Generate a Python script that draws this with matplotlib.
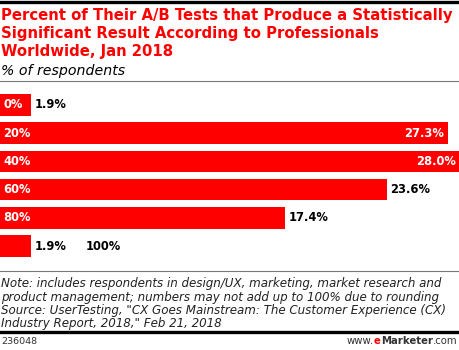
import matplotlib
matplotlib.use('Agg')
import matplotlib.pyplot as plt
from matplotlib.lines import Line2D

W, H = 460, 350

categories = ['0%', '20%', '40%', '60%', '80%', '100%']
values = [1.9, 27.3, 28.0, 23.6, 17.4, 1.9]

title_lines = ['Percent of Their A/B Tests that Produce a Statistically',
               'Significant Result According to Professionals',
               'Worldwide, Jan 2018']
subtitle = '% of respondents'
note_lines = ['Note: includes respondents in design/UX, marketing, market research and',
              'product management; numbers may not add up to 100% due to rounding',
              'Source: UserTesting, "CX Goes Mainstream: The Customer Experience (CX)',
              'Industry Report, 2018," Feb 21, 2018']
chart_id = '236048'

RED = '#ff0000'
plt.rcParams['font.family'] = ['DejaVu Sans']

fig = plt.figure(figsize=(W / 100, H / 100), dpi=100)
fig.patch.set_facecolor('white')


def fy(px):
    # pixel from top -> figure fraction
    return 1 - px / H


def hline(y, lw, color):
    fig.add_artist(Line2D([0, 1], [fy(y), fy(y)], lw=lw, color=color,
                          transform=fig.transFigure))


hline(1.5, 2.4, 'black')
for i, t in enumerate(title_lines):
    fig.text(0.002, fy(20 + i * 18), t, color=RED, fontsize=10.7, fontweight='bold',
             va='baseline', ha='left')
fig.text(0.002, fy(75), subtitle, fontsize=10.2, style='italic', va='baseline')
hline(81, 0.8, '#777777')

# bars
top, bot = 90.6, 260.4
ax = fig.add_axes([0, fy(bot), 1, (bot - top) / H])
ypos = list(range(len(categories)))
ax.barh(ypos, values, height=0.76, color=RED, edgecolor='none')
xmax = 28.0 * 460 / 459
ax.set_xlim(0, xmax)
ax.set_ylim(len(categories) - 0.5, -0.5)
ax.axis('off')

fig.canvas.draw()
r = fig.canvas.get_renderer()
px_per_unit = W / xmax
fs = 8.3
for y, cat, v in zip(ypos, categories, values):
    bar_px = v * px_per_unit
    ct = ax.text(0.2, y, cat, color='white', fontsize=fs, fontweight='bold',
                 va='center', ha='left')
    cw = ct.get_window_extent(r).width
    if v > 25:
        ax.text(v - 0.2, y, '%.1f%%' % v, color='white', fontsize=fs,
                fontweight='bold', va='center', ha='right')
    else:
        vt = ax.text(v + 0.2, y, '%.1f%%' % v, color='black', fontsize=fs,
                     fontweight='bold', va='center', ha='left')
        if cw + 6 > bar_px:
            ct.set_visible(False)
            vw = vt.get_window_extent(r).width
            ax.text(v + 0.2 + (vw + 19) / px_per_unit, y, cat, color='black',
                    fontsize=fs, fontweight='bold', va='center', ha='left')

hline(271, 0.8, '#777777')
for i, t in enumerate(note_lines):
    fig.text(0.002, fy(287 + i * 13.5), t, fontsize=8.6, style='italic',
             va='baseline', color='#222222')
hline(332, 2.4, 'black')
fig.text(0.002, fy(344), chart_id, fontsize=6.8, va='baseline', color='#333333')

# eMarketer logo, built right to left with coloured parts
logo = [('.com', 'normal', '#333333'), ('Marketer', 'bold', '#333333'),
        ('e', 'bold', RED), ('www.', 'normal', '#333333')]
x = 0.995 * W
for s, wt, c in logo:
    t = fig.text(x / W, fy(344), s, fontsize=7.3, fontweight=wt, va='baseline',
                 ha='right', color=c)
    fig.canvas.draw()
    x = t.get_window_extent(r).x0 - 0.3

fig.savefig('out.png', dpi=100)
